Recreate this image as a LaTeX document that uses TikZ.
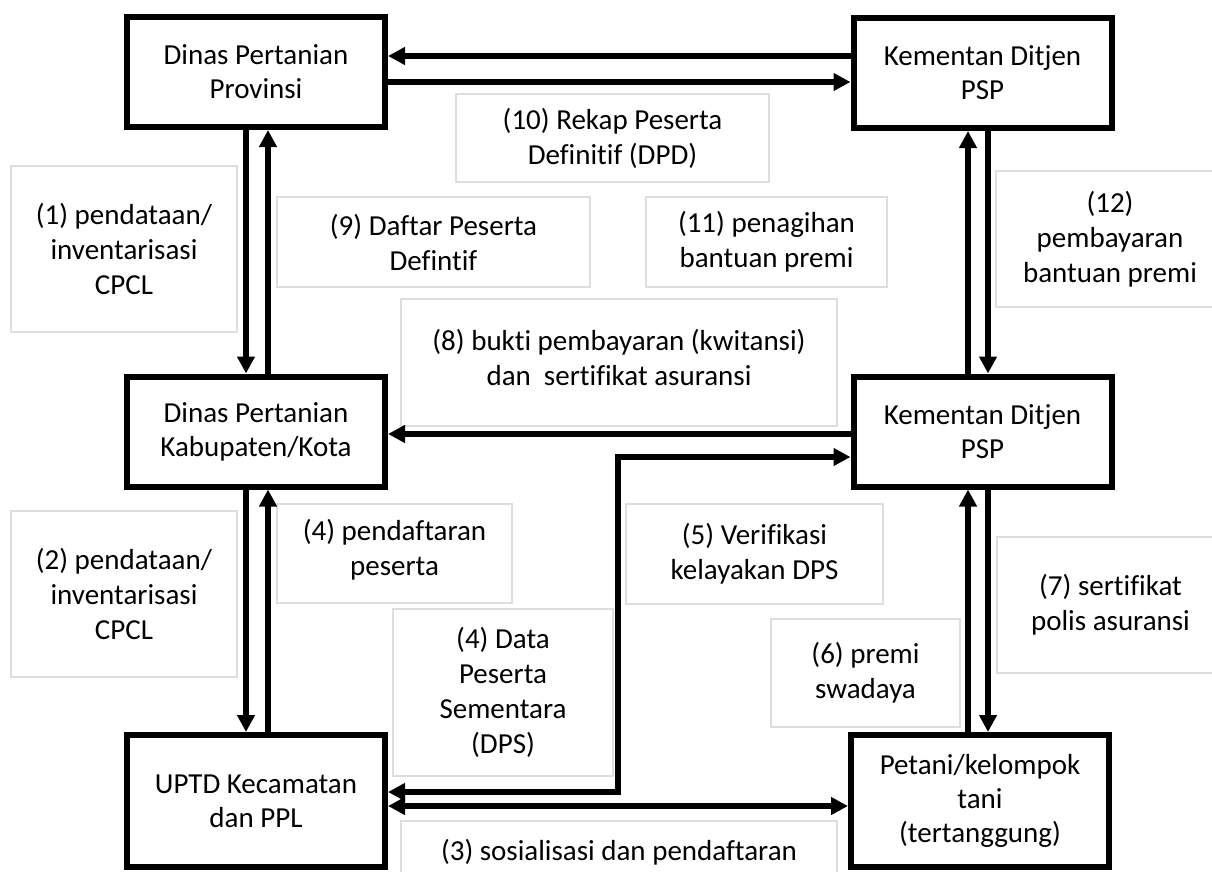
\documentclass[tikz,border=0pt]{standalone}
\usepackage{fontspec}
\setmainfont[Ligatures={NoCommon}]{Carlito}
\usetikzlibrary{arrows.meta}
\definecolor{lblgray}{RGB}{222,222,222}
\tikzset{
  mainbox/.style={draw=black, line width=6pt, minimum width=258pt, minimum height=110pt,
    inner sep=0pt, align=center, font=\fontsize{29}{34}\selectfont},
  lbl/.style={draw=lblgray, line width=2pt, inner sep=0pt, align=center,
    font=\fontsize{29}{35}\selectfont},
  lbltext/.style={inner sep=0pt, align=center, font=\fontsize{29}{35}\selectfont},
  arr/.style={line width=6pt, line join=miter, -{Triangle[length=17pt,width=17pt]}},
  darr/.style={line width=6pt, line join=miter, {Triangle[length=17pt,width=17pt]}-{Triangle[length=17pt,width=17pt]}}
}
\begin{document}
\begin{tikzpicture}[x=1pt,y=-1pt]
\useasboundingbox (0,0) rectangle (1212,872);
\clip (0,0) rectangle (1212,872);
\fill[white] (0,0) rectangle (1212,872);

% label boxes
\node[lbl, minimum width=226pt, minimum height=166pt] (l1) at (124,249) {(1) pendataan/\\inventarisasi\\CPCL};
\node[lbl, minimum width=226pt, minimum height=166pt] (l2) at (124,594) {(2) pendataan/\\inventarisasi\\CPCL};
\node[lbl, minimum width=313pt, minimum height=90pt] (l9) at (433.5,242) {(9) Daftar Peserta\\Defintif};
\node[lbl, minimum width=313pt, minimum height=88pt] (l10) at (612.5,138) {(10) Rekap Peserta\\Definitif (DPD)};
\node[lbl, minimum width=241pt, minimum height=90pt] (l11) at (766.5,242) {(11) penagihan\\bantuan premi};
\node[lbl, minimum width=228pt, minimum height=136pt] (l12) at (1110,239) {(12)\\pembayaran\\bantuan premi};
\node[lbl, minimum width=436pt, minimum height=127pt] (l8) at (619,362.5) {};
\node[lbltext] at ([yshift=5pt]l8.center) {(8) bukti pembayaran (kwitansi)\\dan~ sertifikat asuransi};
\node[lbl, minimum width=235pt, minimum height=99pt] (l4p) at (394.5,553.5) {};
\node[lbltext] at ([yshift=4pt]l4p.center) {(4) pendaftaran\\peserta};
\node[lbl, minimum width=257pt, minimum height=100pt] (l5) at (754.5,554) {(5) Verifikasi\\kelayakan DPS};
\node[lbl, minimum width=220pt, minimum height=167pt] (l4d) at (503,692.5) {(4) Data\\Peserta\\Sementara\\(DPS)};
\node[lbl, minimum width=189pt, minimum height=108pt] (l6) at (865.5,673) {(6) premi\\swadaya};
\node[lbl, minimum width=227pt, minimum height=136pt] (l7) at (1110.5,605) {(7) sertifikat\\polis asuransi};
\node[lbl, minimum width=436pt, minimum height=63pt] (l3) at (619,852.5) {(3) sosialisasi dan pendaftaran};

% main boxes
\node[mainbox] (prov) at (256,72) {Dinas Pertanian\\Provinsi};
\node[mainbox] (kem1) at (982.5,73) {Kementan Ditjen\\PSP};
\node[mainbox] (kab) at (256,431.5) {Dinas Pertanian\\Kabupaten/Kota};
\node[mainbox] (kem2) at (982.5,431.5) {Kementan Ditjen\\PSP};
\node[mainbox, minimum height=132pt] (uptd) at (256,801) {UPTD Kecamatan\\dan PPL};
\node[mainbox, minimum height=132pt] (tani) at (980,801) {Petani/kelompok\\tani\\(tertanggung)};

% connectors
\draw[arr] (kem1.west |- 0,56) -- (prov.east |- 0,56);
\draw[arr] (prov.east |- 0,82) -- (kem1.west |- 0,82);
\draw[arr] (prov.south -| 246,0) -- (kab.north -| 246,0);
\draw[arr] (kab.north -| 268,0) -- (prov.south -| 268,0);
\draw[arr] (kab.south -| 246,0) -- (uptd.north -| 246,0);
\draw[arr] (uptd.north -| 268,0) -- (kab.south -| 268,0);
\draw[arr] (kem2.north -| 968,0) -- (kem1.south -| 968,0);
\draw[arr] (kem1.south -| 988,0) -- (kem2.north -| 988,0);
\draw[arr] (tani.north -| 968,0) -- (kem2.south -| 968,0);
\draw[arr] (kem2.south -| 988,0) -- (tani.north -| 988,0);
\draw[arr] (kem2.west |- 0,434) -- (kab.east |- 0,434);
\coordinate (c1) at (618,792);
\coordinate (c2) at (618,457);
\draw[darr] (uptd.east |- c1) -- (c1) -- (c2) -- (kem2.west |- c2);
\draw[darr] (uptd.east |- 0,806) -- (tani.west |- 0,806);
\end{tikzpicture}
\end{document}
